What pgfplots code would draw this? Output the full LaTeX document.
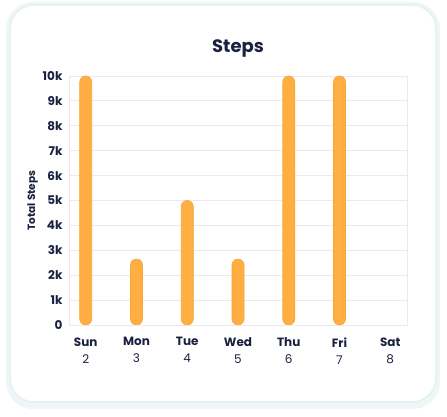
\documentclass[border=0pt]{standalone}
\usepackage{pgfplots}
\pgfplotsset{compat=1.18}
\usepackage{fontspec}
\setmainfont{Poppins}
\definecolor{ink}{RGB}{27,34,64}
\definecolor{barfill}{RGB}{255,174,66}
\definecolor{barline}{RGB}{249,165,56}
\definecolor{gridc}{RGB}{234,234,234}
\definecolor{cardline}{RGB}{228,240,241}
\definecolor{shadow}{RGB}{238,246,247}

\begin{document}
\begin{tikzpicture}[x=1pt,y=1pt]
\useasboundingbox (0,0) rectangle (447,417);
% card with a soft shadow
\fill[shadow, rounded corners=27pt] (6,8) rectangle (440,415);
\filldraw[fill=white, draw=cardline, line width=1.5pt, rounded corners=24pt] (10,15) rectangle (436,412);
\node[font=\bfseries\fontsize{18}{20}\selectfont, text=ink] at (238,369) {Steps};
\begin{axis}[
    at={(69pt,92pt)}, anchor=south west,
    scale only axis, width=338pt, height=249pt,
    xmin=-0.33, xmax=6.33, ymin=0, ymax=10000,
    xtick={0,...,6},
    xticklabels={{\textbf{Sun}\\2},{\textbf{Mon}\\3},{\textbf{Tue}\\4},{\textbf{Wed}\\5},{\textbf{Thu}\\6},{\textbf{Fri}\\7},{\textbf{Sat}\\8}},
    ytick={0,1000,...,10000},
    yticklabels={0,1k,2k,3k,4k,5k,6k,7k,8k,9k,10k},
    scaled y ticks=false,
    ymajorgrids,
    major grid style={gridc, line width=0.8pt},
    axis line style={gridc, line width=0.8pt},
    tick style={draw=none},
    yticklabel style={text=ink, font=\bfseries\fontsize{12}{14}\selectfont, xshift=-3pt},
    xticklabel style={text=ink, align=center, font=\fontsize{12}{17}\selectfont, yshift=-9pt},
    ylabel={Total Steps},
    ylabel style={text=ink, font=\bfseries\fontsize{10.5}{12}\selectfont, yshift=-2pt},
]
\addplot[ybar, bar width=12pt, fill=barfill, draw=barline, line width=0.6pt, rounded corners=6pt]
    coordinates {(0,10000) (1,2650) (2,5000) (3,2650) (4,10000) (5,10000)};
\end{axis}
\end{tikzpicture}
\end{document}
